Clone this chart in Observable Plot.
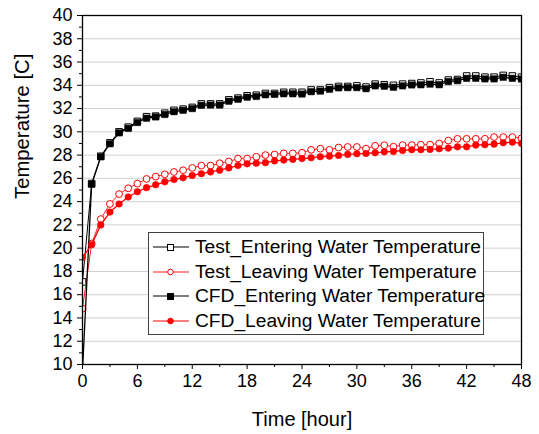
<!DOCTYPE html>
<html>
<head>
<meta charset="utf-8">
<script src="https://cdn.jsdelivr.net/npm/d3@7"></script>
<script src="https://cdn.jsdelivr.net/npm/@observablehq/plot@0.6"></script>
<style>
  html, body { margin: 0; padding: 0; background: #fff; }
  #wrap { position: relative; width: 539px; height: 434px; font-family: "Liberation Sans", Arial, sans-serif; }
  #legend { position: absolute; left: 148px; top: 232px; width: 334px; height: 99px; border: 1px solid #404040; background: #fff; padding-top: 2px; box-sizing: content-box; }
  .row { height: 24.5px; display: flex; align-items: center; font-size: 19.2px; color: #000; white-space: nowrap; }
  .row svg { margin-left: 4px; margin-right: 6px; flex: none; }
</style>
</head>
<body>
<div id="wrap"><div id="chart"></div><div id="legend"></div></div>
<script>
const hours = d3.range(0, 49, 1);
const testEntering = [17.1,25.55,27.9,29.05,30.0,30.4,30.9,31.3,31.35,31.6,31.85,31.95,32.1,32.4,32.4,32.4,32.75,32.9,33.1,33.15,33.3,33.3,33.4,33.4,33.4,33.6,33.6,33.8,33.9,33.9,33.95,33.85,34.1,34.05,34.0,34.1,34.15,34.2,34.3,34.2,34.45,34.5,34.8,34.8,34.7,34.7,34.85,34.8,34.7];
const testLeaving = [14.8,20.4,22.5,23.8,24.65,25.15,25.55,25.95,26.15,26.35,26.55,26.7,26.9,27.1,27.1,27.3,27.45,27.7,27.7,27.85,28.0,28.05,28.15,28.15,28.2,28.45,28.55,28.45,28.65,28.7,28.7,28.55,28.8,28.85,28.72,28.86,28.86,28.9,28.9,29.0,29.25,29.4,29.4,29.4,29.4,29.55,29.55,29.55,29.45];
const cfdEntering = [9.5,25.5,27.85,28.97,29.91,30.3,30.8,31.17,31.28,31.49,31.73,31.85,32.0,32.28,32.3,32.3,32.63,32.8,32.98,33.04,33.18,33.22,33.27,33.27,33.25,33.45,33.5,33.66,33.78,33.8,33.8,33.71,33.95,33.92,33.83,33.95,34.03,34.04,34.1,34.05,34.32,34.4,34.6,34.6,34.55,34.55,34.69,34.6,34.54];
const cfdLeaving = [19.2,20.3,22.0,23.1,23.8,24.4,24.85,25.2,25.45,25.7,25.9,26.05,26.25,26.4,26.55,26.7,26.9,27.1,27.25,27.3,27.35,27.5,27.57,27.63,27.7,27.77,27.86,27.91,27.97,28.06,28.11,28.14,28.2,28.28,28.31,28.4,28.46,28.46,28.49,28.54,28.6,28.71,28.71,28.86,28.89,28.94,29.06,29.11,29.0];

const seriesNames = ["Test_Entering Water Temperature","Test_Leaving Water Temperature","CFD_Entering Water Temperature","CFD_Leaving Water Temperature"];
const xMajor = d3.range(0, 49, 6);
const xMinor = d3.range(3, 48, 6);
const yMajor = d3.range(10, 41, 2);
const yMinor = d3.range(11, 40, 2);

const tbl = (vals) => hours.map((h, i) => ({h, v: vals[i]}));
const tE = tbl(testEntering), tL = tbl(testLeaving), cE = tbl(cfdEntering), cL = tbl(cfdLeaving);

const chart = Plot.plot({
  width: 539, height: 434,
  marginLeft: 82, marginRight: 18, marginTop: 15, marginBottom: 70,
  style: {fontFamily: "'Liberation Sans', Arial, sans-serif", fontSize: "18px", color: "#000", background: "#fff"},
  x: {domain: [0, 48]},
  y: {domain: [10, 40]},
  marks: [
    Plot.gridY(yMajor.filter(d => d > 10 && d < 40), {stroke: "#cfcfcf", strokeOpacity: 1, strokeWidth: 1}),
    Plot.axisX(xMajor, {tickSize: 5, tickPadding: 5, fontSize: 18, label: null, stroke: "#000"}),
    Plot.axisX(xMinor, {tickSize: 3, text: null, label: null, stroke: "#000"}),
    Plot.axisY(yMajor, {tickSize: 5, tickPadding: 5, fontSize: 18, label: null, stroke: "#000"}),
    Plot.axisY(yMinor, {tickSize: 3, text: null, label: null, stroke: "#000"}),
    Plot.line(tE, {x: "h", y: "v", stroke: "#000", strokeWidth: 1, clip: true}),
    Plot.dot(tE, {x: "h", y: "v", symbol: "square", r: 3.7, fill: "#fff", stroke: "#000", strokeWidth: 1, clip: true}),
    Plot.line(tL, {x: "h", y: "v", stroke: "#ff2020", strokeWidth: 1, clip: true}),
    Plot.dot(tL, {x: "h", y: "v", symbol: "circle", r: 3.4, fill: "#fff", stroke: "#ff0000", strokeWidth: 1, clip: true}),
    Plot.line(cE, {x: "h", y: "v", stroke: "#000", strokeWidth: 1.3, clip: true}),
    Plot.dot(cE, {x: "h", y: "v", symbol: "square", r: 3.6, fill: "#000", stroke: "#000", strokeWidth: 0.5, clip: true}),
    Plot.line(cL, {x: "h", y: "v", stroke: "#ff0000", strokeWidth: 1.3, clip: true}),
    Plot.dot(cL, {x: "h", y: "v", symbol: "circle", r: 3.3, fill: "#ff0000", stroke: "#ff0000", strokeWidth: 0.5, clip: true}),
    Plot.frame({stroke: "#000", strokeWidth: 1.3}),
    Plot.text(["Time [hour]"], {frameAnchor: "bottom", dy: 55, fontSize: 20, lineAnchor: "middle", fill: "#000"}),
    Plot.text(["Temperature [C]"], {frameAnchor: "left", dx: -60, dy: 9, rotate: -90, fontSize: 20.3, lineAnchor: "middle", fill: "#000"})
  ]
});
document.getElementById("chart").appendChild(chart);

// legend overlay
const styles = [
  {stroke: "#000", sym: "square", fill: "#fff", mstroke: "#000"},
  {stroke: "#ff2020", sym: "circle", fill: "#fff", mstroke: "#ff0000"},
  {stroke: "#000", sym: "square", fill: "#000", mstroke: "#000"},
  {stroke: "#ff0000", sym: "circle", fill: "#ff0000", mstroke: "#ff0000"}
];
const legend = d3.select("#legend");
seriesNames.forEach((name, i) => {
  const s = styles[i];
  const row = legend.append("div").attr("class", "row");
  const svg = row.append("svg").attr("width", 36).attr("height", 12);
  svg.append("line").attr("x1", 0).attr("x2", 36).attr("y1", 6).attr("y2", 6).attr("stroke", s.stroke).attr("stroke-width", 1.2);
  if (s.sym === "square") {
    svg.append("rect").attr("x", 14.5).attr("y", 3.5).attr("width", 6).attr("height", 6).attr("fill", s.fill).attr("stroke", s.mstroke).attr("stroke-width", 1);
  } else {
    svg.append("circle").attr("cx", 17.5).attr("cy", 6).attr("r", 2.8).attr("fill", s.fill).attr("stroke", s.mstroke).attr("stroke-width", 1);
  }
  row.append("span").text(name);
});
</script>
</body>
</html>
